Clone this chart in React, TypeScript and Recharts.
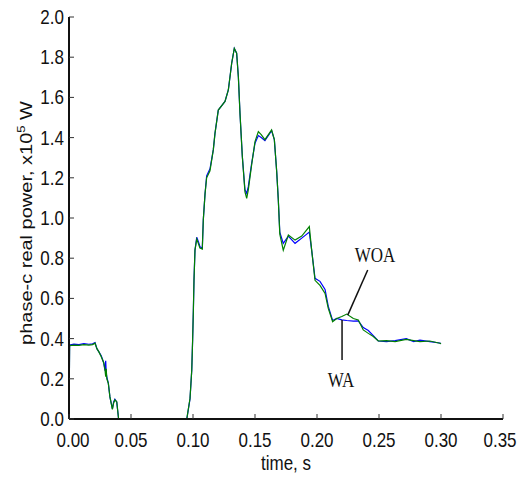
import React from 'react';
import { LineChart, Line, XAxis, YAxis, ReferenceLine, ReferenceDot } from 'recharts';

// time, s
const time = [
  0, 0.0005, 0.004, 0.008, 0.012, 0.016, 0.019, 0.021, 0.0225, 0.024, 0.026, 0.028, 0.029, 0.0296, 0.03, 0.0305,
  0.0317, 0.033, 0.035, 0.036, 0.037, 0.0385, 0.04, 0.045, 0.05, 0.06, 0.07, 0.08, 0.09, 0.095, 0.0976, 0.099,
  0.0997, 0.1003, 0.1008, 0.1016, 0.103, 0.1045, 0.1056, 0.1075, 0.1083, 0.1097, 0.111, 0.1137, 0.1164, 0.1177,
  0.1204, 0.1258, 0.1285, 0.1312, 0.1333, 0.1352, 0.1366, 0.1379, 0.1398, 0.1419, 0.1433, 0.1446, 0.1473, 0.15,
  0.1527, 0.155, 0.158, 0.1634, 0.1656, 0.1675, 0.1688, 0.17, 0.1728, 0.1769, 0.1823, 0.1877, 0.1938, 0.1957,
  0.1984, 0.2024, 0.2065, 0.2091, 0.2126, 0.2159, 0.22, 0.224, 0.2293, 0.2333, 0.2373, 0.2414, 0.2454, 0.2494,
  0.256, 0.263, 0.272, 0.278, 0.283, 0.291, 0.299, 0.3,
];

// phase-c real power, x10^5 W -- with filter (WA)
const wa = [
  0, 0.368, 0.372, 0.37, 0.375, 0.372, 0.374, 0.38, 0.35, 0.335, 0.315, 0.28, 0.24, 0.29, 0.23, 0.21,
  0.178, 0.11, 0.05, 0.085, 0.098, 0.085, 0, 0, 0, 0, 0, 0, 0, 0, 0.1, 0.244,
  0.393, 0.542, 0.69, 0.84, 0.904, 0.88, 0.857, 0.849, 0.99, 1.12, 1.21, 1.245, 1.34, 1.42,
  1.537, 1.58, 1.637, 1.77, 1.844, 1.82, 1.7, 1.52, 1.305, 1.14, 1.123, 1.156, 1.272, 1.372,
  1.41, 1.4, 1.385, 1.435, 1.39, 1.23, 1.09, 0.93, 0.874, 0.91, 0.874, 0.9, 0.93, 0.84,
  0.7, 0.685, 0.645, 0.56, 0.49, 0.5, 0.493, 0.49, 0.487, 0.488, 0.455, 0.44, 0.415, 0.388,
  0.385, 0.39, 0.4, 0.385, 0.392, 0.385, 0.378, 0.375,
];

// without filter (WOA)
const woa = [
  0, 0.365, 0.368, 0.366, 0.37, 0.368, 0.37, 0.377, 0.35, 0.335, 0.31, 0.28, 0.245, 0.21, 0.25, 0.2,
  0.178, 0.11, 0.048, 0.08, 0.095, 0.086, 0, 0, 0, 0, 0, 0, 0, 0, 0.103, 0.244,
  0.393, 0.542, 0.69, 0.84, 0.895, 0.87, 0.85, 0.845, 0.99, 1.12, 1.2, 1.235, 1.34, 1.42,
  1.537, 1.58, 1.637, 1.77, 1.844, 1.82, 1.7, 1.52, 1.305, 1.13, 1.098, 1.14, 1.265, 1.38,
  1.43, 1.415, 1.39, 1.438, 1.39, 1.23, 1.09, 0.92, 0.84, 0.915, 0.89, 0.91, 0.957, 0.84,
  0.69, 0.665, 0.625, 0.55, 0.484, 0.5, 0.51, 0.522, 0.5, 0.493, 0.443, 0.426, 0.41, 0.388,
  0.39, 0.385, 0.396, 0.39, 0.385, 0.388, 0.377, 0.375,
];

const xTicks = [0, 0.05, 0.1, 0.15, 0.2, 0.25, 0.3, 0.35];
const yTicks = [0, 0.2, 0.4, 0.6, 0.8, 1.0, 1.2, 1.4, 1.6, 1.8, 2.0];

// annotation pointers: [t, value]
const waPointer = [[0.2202, 0.493], [0.2202, 0.294]];
const woaPointer = [[0.2248, 0.517], [0.2409, 0.741]];
const waText = [0.2194, 0.194];
const woaText = [0.2468, 0.816];

const data = time.map((t, i) => ({ t, wa: wa[i], woa: woa[i] }));

const SANS = "'Liberation Sans', Arial, sans-serif";
const SERIF = "'Liberation Serif', 'Times New Roman', serif";
const SQUEEZE = 0.85;
const TICK = 5;

const BottomTick = (props: any) => {
  const { x, y, payload, index } = props;
  const shift = index === 0 ? 4 : index === xTicks.length - 1 ? -3 : 0;
  return (
    <g>
      <line x1={x} x2={x} y1={y} y2={y - TICK} stroke="#333" strokeWidth={1} />
      <text
        transform={`translate(${x + shift},${y + 28}) scale(${SQUEEZE},1)`}
        textAnchor="middle"
        fontFamily={SANS}
        fontSize={20}
        fill="#111"
      >
        {payload.value.toFixed(2)}
      </text>
    </g>
  );
};

const LeftTick = (props: any) => {
  const { x, y, payload } = props;
  return (
    <g>
      <line x1={x} x2={x + TICK} y1={y} y2={y} stroke="#333" strokeWidth={1} />
      <text
        transform={`translate(${x - 5},${y + 7}) scale(${SQUEEZE},1)`}
        textAnchor="end"
        fontFamily={SANS}
        fontSize={20}
        fill="#111"
      >
        {payload.value.toFixed(1)}
      </text>
    </g>
  );
};

const TopTick = (props: any) => (
  <line x1={props.x} x2={props.x} y1={props.y} y2={props.y + TICK} stroke="#333" strokeWidth={1} />
);

const RightTick = (props: any) => (
  <line x1={props.x} x2={props.x - TICK} y1={props.y} y2={props.y} stroke="#333" strokeWidth={1} />
);

const XLabel = (props: any) => {
  const vb = props.viewBox;
  return (
    <text
      transform={`translate(${vb.x + vb.width / 2},${vb.y + 51}) scale(${SQUEEZE},1)`}
      textAnchor="middle"
      fontFamily={SANS}
      fontSize={20}
      fill="#111"
    >
      time, s
    </text>
  );
};

const YLabel = (props: any) => {
  const vb = props.viewBox;
  return (
    <text
      transform={`translate(${vb.x + 23},${vb.y + vb.height / 2 + 5}) scale(${SQUEEZE},1) rotate(-90)`}
      textAnchor="middle"
      fontFamily={SANS}
      fontSize={20}
      fill="#111"
    >
      phase-c real power, x10
      <tspan fontSize={13} dy={-8}>5</tspan>
      <tspan dy={8}> W</tspan>
    </text>
  );
};

const serifLabel = (txt: string) => (p: any) => (
  <text
    transform={`translate(${p.cx},${p.cy}) scale(${SQUEEZE},1)`}
    textAnchor="middle"
    dominantBaseline="central"
    fontFamily={SERIF}
    fontSize={20}
    fill="#111"
  >
    {txt}
  </text>
);

export default function App() {
  return (
    <div style={{ position: 'absolute', left: 0, top: 0, background: '#fff' }}>
      <LineChart width={524} height={477} data={data} margin={{ top: 17, right: 21, left: 9, bottom: 0 }}>
        <XAxis
          dataKey="t"
          type="number"
          domain={[0, 0.35]}
          ticks={xTicks}
          interval={0}
          height={58}
          tickSize={0}
          tickMargin={0}
          tick={<BottomTick />}
          axisLine={{ stroke: '#111', strokeWidth: 2 }}
          label={<XLabel />}
        />
        <XAxis
          xAxisId="top"
          dataKey="t"
          type="number"
          orientation="top"
          domain={[0, 0.35]}
          ticks={xTicks}
          interval={0}
          height={0}
          tickSize={0}
          tickMargin={0}
          tick={<TopTick />}
          axisLine={{ stroke: '#111', strokeWidth: 1.8 }}
        />
        <YAxis
          type="number"
          domain={[0, 2]}
          ticks={yTicks}
          interval={0}
          width={60}
          tickSize={0}
          tickMargin={0}
          tick={<LeftTick />}
          axisLine={{ stroke: '#111', strokeWidth: 2 }}
          label={<YLabel />}
        />
        <YAxis
          yAxisId="right"
          type="number"
          orientation="right"
          domain={[0, 2]}
          ticks={yTicks}
          interval={0}
          width={0}
          tickSize={0}
          tickMargin={0}
          tick={<RightTick />}
          axisLine={{ stroke: '#111', strokeWidth: 1.8 }}
        />
        <Line type="linear" dataKey="wa" stroke="#0000ff" strokeWidth={1.2} dot={false} isAnimationActive={false} />
        <Line type="linear" dataKey="woa" stroke="#008000" strokeWidth={1.2} dot={false} isAnimationActive={false} />
        <ReferenceLine
          segment={waPointer.map(([x, y]) => ({ x, y }))}
          stroke="#111"
          strokeWidth={1.5}
        />
        <ReferenceLine
          segment={woaPointer.map(([x, y]) => ({ x, y }))}
          stroke="#111"
          strokeWidth={1.5}
        />
        <ReferenceDot x={waText[0]} y={waText[1]} r={0} shape={serifLabel('WA')} />
        <ReferenceDot x={woaText[0]} y={woaText[1]} r={0} shape={serifLabel('WOA')} />
      </LineChart>
    </div>
  );
}
